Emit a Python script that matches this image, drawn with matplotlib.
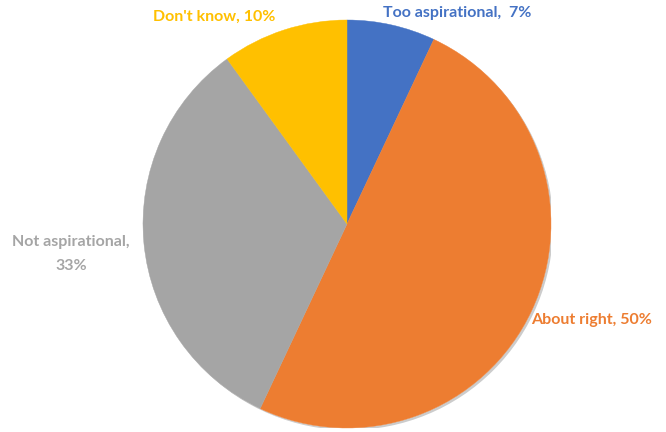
import matplotlib
matplotlib.use("Agg")
import matplotlib.pyplot as plt
import matplotlib.patheffects as pe
from matplotlib.patches import Circle

categories = ["Too aspirational", "About right", "Not aspirational", "Don't know"]
shares = [7, 50, 33, 10]
label_texts = ["Too aspirational,  7%", "About right, 50%", "Not aspirational,\n33%", "Don't know, 10%"]
colors = ["#4472C4", "#ED7D31", "#A5A5A5", "#FFC000"]

W, H = 666, 432
fig = plt.figure(figsize=(W / 100, H / 100), dpi=100)
fig.patch.set_facecolor("white")

cx, cy, r = 347, 224, 204
ax = fig.add_axes([(cx - r) / W, (H - cy - r) / H, 2 * r / W, 2 * r / H])

# soft shadow under the whole pie
shadow = Circle((0, 0), 1.0, facecolor="white", edgecolor="none", zorder=0)
shadow.set_path_effects([pe.SimplePatchShadow(offset=(1.5, -1.5), alpha=0.2, shadow_rgbFace="black"),
                         pe.Normal()])
ax.add_patch(shadow)

wedges, _ = ax.pie(shares, colors=colors, startangle=90, counterclock=False,
                   radius=1.0, wedgeprops=dict(linewidth=0.3, edgecolor="none"))
for w, c in zip(wedges, colors):
    w.set_edgecolor(c)
    w.set_zorder(2)
ax.set_xlim(-1, 1)
ax.set_ylim(-1, 1)
ax.set_aspect("equal")
ax.axis("off")

# label anchor points in pixel coordinates (x, y from top)
label_pos = [(457, 13), (592, 320), (71, 254), (214, 17)]
for text, col, (px, py) in zip(label_texts, colors, label_pos):
    fig.text(px / W, 1 - py / H, text, color=col, fontsize=11.5, fontweight="bold",
             family=["Lato", "DejaVu Sans"], ha="center", va="center",
             linespacing=1.85)

fig.savefig("out.png", dpi=100)
